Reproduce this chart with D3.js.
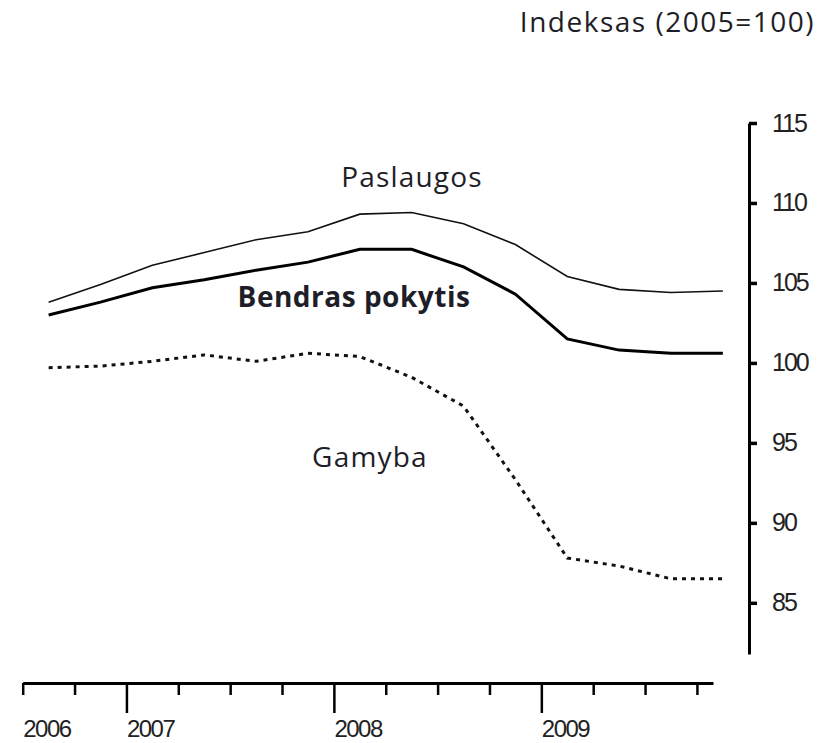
<!DOCTYPE html>
<html>
<head>
<meta charset="utf-8">
<script src="https://cdn.jsdelivr.net/npm/d3@7"></script>
<style>
  body { margin: 0; background: #fff; }
  .lbl { font-family: "Open Sans", sans-serif; fill: #1e1e28; }
  .tick text { font-family: "Liberation Sans", Arial, sans-serif; }
</style>
</head>
<body>
<div id="chart"></div>
<script>
// quarters, Q3 2006 .. Q4 2009
const quarters = ["2006 III", "2006 IV", "2007 I", "2007 II", "2007 III", "2007 IV", "2008 I", "2008 II", "2008 III", "2008 IV", "2009 I", "2009 II", "2009 III", "2009 IV"]
const paslaugos = [103.8, 104.9, 106.1, 106.9, 107.7, 108.2, 109.3, 109.4, 108.7, 107.4, 105.4, 104.6, 104.4, 104.5]
const bendras = [103.0, 103.8, 104.7, 105.2, 105.8, 106.3, 107.1, 107.1, 106.0, 104.3, 101.5, 100.8, 100.6, 100.6]
const gamyba = [99.7, 99.8, 100.1, 100.5, 100.1, 100.6, 100.4, 99.1, 97.3, 92.7, 87.8, 87.3, 86.5, 86.5]
const yTicks = [85, 90, 95, 100, 105, 110, 115]
const yearLabels = ["2006", "2007", "2008", "2009"]
const yearTicks = [0, 2, 6, 10] // quarter index where the year label sits

const width = 831
const height = 743

const svg = d3.select('#chart').append("svg")
  .attr("width", width)
  .attr("height", height)

const xScale = d3.scaleLinear()
  .domain([0, 13.31])
  .range([22.7, 713])

const yScale = d3.scaleLinear()
  .domain([81.8, 115])
  .range([654, 123])

// y axis on the right
const yAxis = svg.append("g")
  .attr("transform", "translate(749,0)")
  .call(d3.axisRight(yScale).tickValues(yTicks).tickSize(8).tickSizeOuter(0).tickPadding(15))
yAxis.select(".domain").attr("stroke", "#000").attr("stroke-width", 3)
yAxis.selectAll(".tick line").attr("stroke", "#000").attr("stroke-width", 3.5)
yAxis.selectAll(".tick text")
  .style("font-size", "25px")
  .style("letter-spacing", "-2px")
  .attr("fill", "#222")

// x axis, quarterly ticks, longer at year starts
const xAxis = svg.append("g")
  .attr("transform", "translate(0,683)")
  .call(d3.axisBottom(xScale).tickValues(d3.range(0, 14)).tickSize(12).tickSizeOuter(0).tickFormat(""))
xAxis.select(".domain").attr("stroke", "#000").attr("stroke-width", 3)
xAxis.selectAll(".tick line")
  .attr("stroke", "#000")
  .attr("stroke-width", 2.5)
  .attr("y2", d => yearTicks.includes(d) && d > 0 ? 30 : 12)

svg.append("g").selectAll("text")
  .data(yearLabels)
  .join("text")
  .attr("x", (d, i) => xScale(yearTicks[i]) + 0.5)
  .attr("y", 737)
  .style("font-family", '"Liberation Sans", Arial, sans-serif')
  .style("font-size", "24px")
  .style("letter-spacing", "-1.5px")
  .attr("fill", "#222")
  .text(d => d)

// the three series
const line = d3.line()
  .x((d, i) => xScale(i + 0.5))
  .y(d => yScale(d))

svg.append("path")
  .datum(paslaugos)
  .attr("fill", "none")
  .attr("stroke", "#111")
  .attr("stroke-width", 1.6)
  .attr("d", line)

svg.append("path")
  .datum(bendras)
  .attr("fill", "none")
  .attr("stroke", "#000")
  .attr("stroke-width", 3)
  .attr("d", line)

svg.append("path")
  .datum(gamyba)
  .attr("fill", "none")
  .attr("stroke", "#111")
  .attr("stroke-width", 3)
  .attr("stroke-dasharray", "4,5")
  .attr("d", line)

// series labels and unit
svg.append("text").attr("class", "lbl")
  .attr("x", 412).attr("y", 187).attr("text-anchor", "middle")
  .style("font-size", "28px").style("letter-spacing", "1.2px")
  .text("Paslaugos")

svg.append("text").attr("class", "lbl")
  .attr("x", 354).attr("y", 307).attr("text-anchor", "middle")
  .style("font-size", "28px").style("font-weight", "bold").style("letter-spacing", "0.5px")
  .text("Bendras pokytis")

svg.append("text").attr("class", "lbl")
  .attr("x", 370).attr("y", 467).attr("text-anchor", "middle")
  .style("font-size", "28px").style("letter-spacing", "1.2px")
  .text("Gamyba")

svg.append("text").attr("class", "lbl")
  .attr("x", 815).attr("y", 32).attr("text-anchor", "end")
  .style("font-size", "28px").style("letter-spacing", "1.5px")
  .text("Indeksas (2005=100)")
</script>
</body>
</html>
